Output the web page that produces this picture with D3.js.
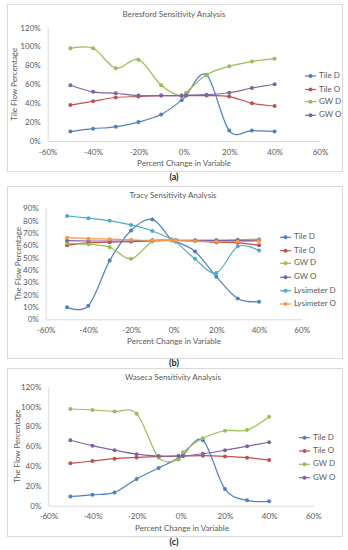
<!DOCTYPE html>
<html>
<head>
<meta charset="utf-8">
<script src="https://cdn.jsdelivr.net/npm/d3@7"></script>
<style>
  body { margin: 0; background: #fff; }
  svg text { font-family: Lato, "Liberation Sans", sans-serif; fill: #595959; }
</style>
</head>
<body>
<div id="chart"></div>
<script>
// percent change in variable (x values shared by all three sites)
var xPct = [-50, -40, -30, -20, -10, -1, 1, 10, 20, 30, 40];
var xTicks = [-60, -40, -20, 0, 20, 40, 60];
var yTicks120 = [0, 20, 40, 60, 80, 100, 120];
var yTicks90 = [0, 10, 20, 30, 40, 50, 60, 70, 80, 90];

// Beresford
var beresTileD = [10, 13, 15, 20, 28, 43, 48, 70, 11, 11, 10];
var beresTileO = [38, 42, 46, 47, 48, 48, 48, 48, 47, 40, 37];
var beresGwD   = [98, 98, 77, 86, 59, 47, 51, 70, 79, 84, 87];
var beresGwO   = [59, 52, 50.5, 48, 48, 48, 48.5, 49, 51, 56, 60];

// Tracy
var tracyTileD = [9.7, 11, 47.6, 72, 81, 64, 63, 55, 34.6, 16.8, 14.3];
var tracyTileO = [60, 62, 62.5, 63, 63.5, 64, 64, 63.5, 62.5, 62, 60];
var tracyGwD   = [61.6, 60.8, 58.4, 49, 63, 64, 64, 64, 64, 64.5, 65];
var tracyGwO   = [63.8, 63.5, 63.5, 63.5, 64, 64, 64, 64, 64, 64, 64];
var tracyLysD  = [83.8, 82, 80, 76.5, 71.6, 65, 63, 49, 37.6, 59, 55.7];
var tracyLysO  = [66.2, 65.4, 65, 64.5, 64, 64, 63.8, 63.5, 63, 63, 63.5];

// Waseca
var wasTileD = [9.4, 11, 13.4, 27, 38, 48, 51, 66, 16.8, 5.4, 4.4];
var wasTileO = [42.7, 45, 47.4, 48.7, 49.7, 50, 50, 50.4, 49.7, 48.4, 46];
var wasGwD   = [97.5, 96.5, 95, 92.8, 48.4, 46.7, 53.8, 68, 75.6, 76.3, 89.7];
var wasGwO   = [66, 60.5, 56, 52, 50, 50, 50, 52.4, 56, 60, 64];

var colors = {
  tileD: "#4f81bd", tileO: "#c0504d", gwD: "#9bbb59",
  gwO: "#8064a2", lysD: "#4bacc6", lysO: "#f79646"
};

var W = 348, H = 550;
var fs = "8px";
var svg = d3.select("#chart").append("svg")
  .attr("width", W)
  .attr("height", H);

var panels = [
  {
    title: "Beresford Sensitivity Analysis", yTitle: "Tile Flow Percentage", tag: "(a)",
    box: [7, 4, 342, 171], x: [47.7, 320], y: [141, 27.5], yMax: 120, yTicks: yTicks120,
    titleY: 15, titleX: 174, yTitleX: 15, xTitleX: 184, xTitleY: 164, tagY: 178,
    legend: { x: 305, ys: [76, 89.5, 101.7, 115.3] },
    series: [
      { name: "Tile D", values: beresTileD, color: colors.tileD },
      { name: "Tile O", values: beresTileO, color: colors.tileO },
      { name: "GW D", values: beresGwD, color: colors.gwD },
      { name: "GW O", values: beresGwO, color: colors.gwO }
    ]
  },
  {
    title: "Tracy Sensitivity Analysis", yTitle: "The Flow Percentage", tag: "(b)",
    box: [7, 186, 342, 358], x: [45.7, 301.7], y: [319.3, 208.3], yMax: 90, yTicks: yTicks90,
    titleY: 196, titleX: 173, yTitleX: 19, xTitleX: 174, xTitleY: 342, tagY: 364,
    legend: { x: 280, ys: [237.3, 250.7, 263.3, 277.3, 290.7, 304] },
    series: [
      { name: "Tile D", values: tracyTileD, color: colors.tileD },
      { name: "Tile O", values: tracyTileO, color: colors.tileO },
      { name: "GW D", values: tracyGwD, color: colors.gwD },
      { name: "GW O", values: tracyGwO, color: colors.gwO },
      { name: "Lysimeter D", values: tracyLysD, color: colors.lysD },
      { name: "Lysimeter O", values: tracyLysO, color: colors.lysO }
    ]
  },
  {
    title: "Waseca Sensitivity Analysis", yTitle: "The Flow Percentage", tag: "(c)",
    box: [7, 368, 342, 536], x: [48.3, 313.3], y: [505.7, 386.7], yMax: 120, yTicks: yTicks120,
    titleY: 378, titleX: 173, yTitleX: 18, xTitleX: 182, xTitleY: 529, tagY: 543,
    legend: { x: 299, ys: [437.7, 451, 464.3, 477.7] },
    series: [
      { name: "Tile D", values: wasTileD, color: colors.tileD },
      { name: "Tile O", values: wasTileO, color: colors.tileO },
      { name: "GW D", values: wasGwD, color: colors.gwD },
      { name: "GW O", values: wasGwO, color: colors.gwO }
    ]
  }
];

panels.forEach(drawPanel);

function drawPanel(p) {
  var g = svg.append("g");

  // chart frame
  g.append("rect")
    .attr("x", p.box[0] + 0.5)
    .attr("y", p.box[1] + 0.5)
    .attr("width", p.box[2] - p.box[0])
    .attr("height", p.box[3] - p.box[1])
    .attr("fill", "#fff")
    .attr("stroke", "#d9d9d9")
    .attr("stroke-width", 1);

  var x = d3.scaleLinear().domain([-60, 60]).range(p.x);
  var y = d3.scaleLinear().domain([0, p.yMax]).range(p.y);

  // axes
  var xAxis = g.append("g")
    .attr("transform", "translate(0," + p.y[0] + ")")
    .call(d3.axisBottom(x).tickValues(xTicks).tickSize(0).tickPadding(8)
      .tickFormat(function(d) { return d + "%"; }));
  var yAxis = g.append("g")
    .attr("transform", "translate(" + p.x[0] + ",0)")
    .call(d3.axisLeft(y).tickValues(p.yTicks).tickSize(0).tickPadding(7)
      .tickFormat(function(d) { return d + "%"; }));

  [xAxis, yAxis].forEach(function(a) {
    a.select(".domain").attr("stroke", "#d9d9d9");
    a.selectAll("text")
      .attr("font-size", fs)
      .attr("font-family", "Lato, sans-serif")
      .attr("fill", "#595959");
  });

  // titles
  g.append("text")
    .attr("x", p.titleX)
    .attr("y", p.titleY)
    .attr("text-anchor", "middle")
    .attr("dominant-baseline", "middle")
    .attr("font-size", fs)
    .text(p.title);

  g.append("text")
    .attr("transform", "translate(" + p.yTitleX + "," + ((p.y[0] + p.y[1]) / 2) + ") rotate(-90)")
    .attr("text-anchor", "middle")
    .attr("dominant-baseline", "middle")
    .attr("font-size", fs)
    .text(p.yTitle);

  g.append("text")
    .attr("x", p.xTitleX)
    .attr("y", p.xTitleY)
    .attr("text-anchor", "middle")
    .attr("dominant-baseline", "middle")
    .attr("font-size", fs)
    .text("Percent Change in Variable");

  svg.append("text")
    .attr("x", 174)
    .attr("y", p.tagY)
    .attr("text-anchor", "middle")
    .attr("dominant-baseline", "middle")
    .attr("font-size", "9px")
    .attr("font-weight", "bold")
    .attr("font-family", "'Liberation Serif', serif")
    .style("fill", "#222")
    .text(p.tag);

  // smoothed lines like Excel
  var line = d3.line()
    .x(function(d) { return x(d[0]); })
    .y(function(d) { return y(d[1]); })
    .curve(d3.curveCatmullRom.alpha(0));

  p.series.forEach(function(s) {
    var pts = xPct.map(function(v, i) { return [v, s.values[i]]; });
    g.append("path")
      .datum(pts)
      .attr("fill", "none")
      .attr("stroke", s.color)
      .attr("stroke-width", 1.2)
      .attr("d", line);

    g.selectAll(null)
      .data(pts)
      .enter()
      .append("circle")
      .attr("cx", function(d) { return x(d[0]); })
      .attr("cy", function(d) { return y(d[1]); })
      .attr("r", 2)
      .attr("fill", s.color);
  });

  // legend
  var leg = g.selectAll(".leg")
    .data(p.series)
    .enter()
    .append("g")
    .attr("transform", function(d, i) { return "translate(" + p.legend.x + "," + p.legend.ys[i] + ")"; });

  leg.append("line")
    .attr("x1", 0).attr("x2", 11)
    .attr("stroke", function(d) { return d.color; })
    .attr("stroke-width", 1.2);
  leg.append("circle")
    .attr("cx", 5.5)
    .attr("r", 2)
    .attr("fill", function(d) { return d.color; });
  leg.append("text")
    .attr("x", 14)
    .attr("dominant-baseline", "middle")
    .attr("font-size", fs)
    .text(function(d) { return d.name; });
}
</script>
</body>
</html>
